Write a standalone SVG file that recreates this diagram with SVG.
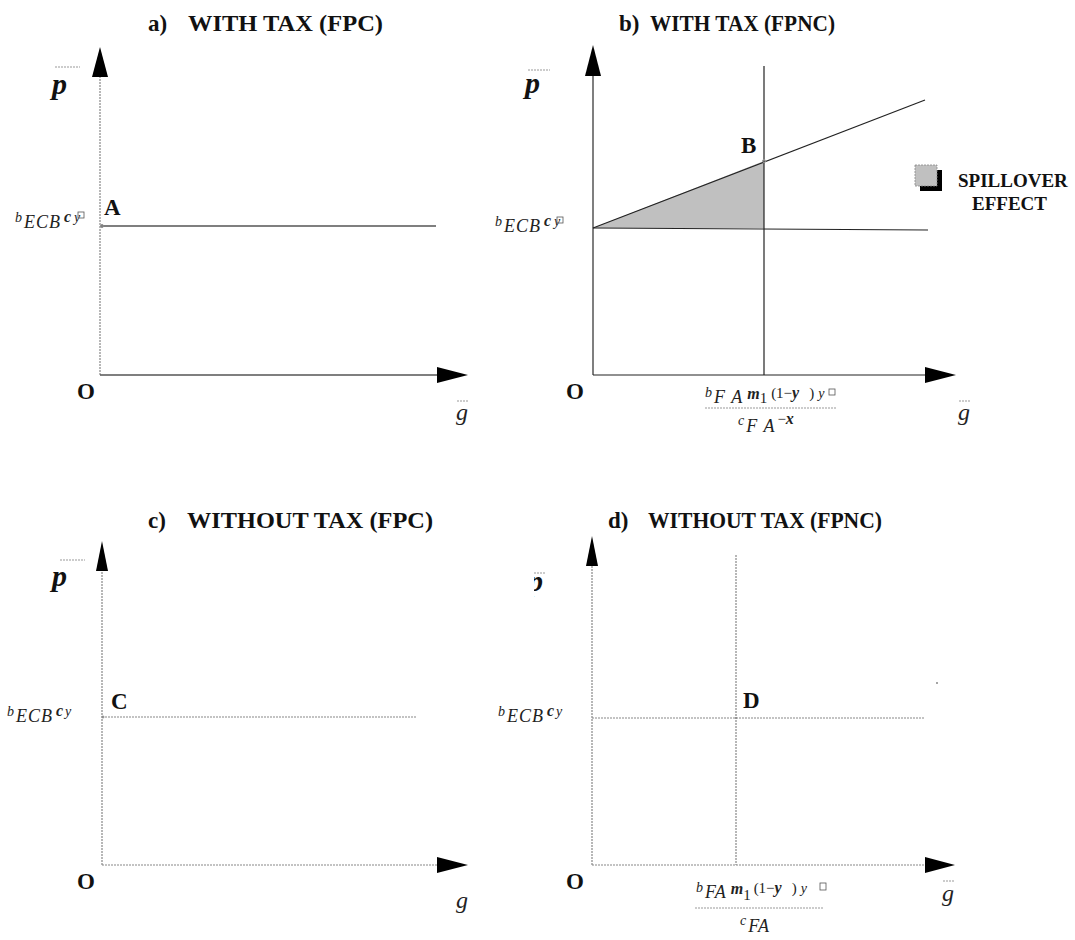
<svg xmlns="http://www.w3.org/2000/svg" width="1075" height="940" viewBox="0 0 1075 940">
<style>
.title{font-family:"Liberation Serif",serif;font-weight:bold;font-size:23px;fill:#111}
.lbl{font-family:"Liberation Serif",serif;font-weight:bold;font-size:23px;fill:#111}
.p{font-family:"Liberation Serif",serif;font-weight:bold;font-style:italic;font-size:30px;fill:#111}
.g{font-family:"Liberation Serif",serif;font-style:italic;font-size:24px;fill:#222}
.m{font-family:"Liberation Serif",serif;font-style:italic;font-size:18px;fill:#222;letter-spacing:1px}
.ms{font-family:"Liberation Serif",serif;font-style:italic;font-size:14px;fill:#222}
.mb{font-family:"Liberation Serif",serif;font-weight:bold;font-style:italic;font-size:16px;fill:#222}
.mr{font-family:"Liberation Serif",serif;font-size:15px;fill:#222}
.leg{font-family:"Liberation Serif",serif;font-weight:bold;font-size:19px;fill:#111}
.axd{stroke:#888;stroke-width:1.2;stroke-dasharray:2,1;fill:none}
.axs{stroke:#555;stroke-width:1.5;fill:none}
.ln{stroke:#222;stroke-width:1.2;fill:none}
.bar{stroke:#999;stroke-width:1;stroke-dasharray:2,1}
.box{fill:none;stroke:#555;stroke-width:0.8}
.head{fill:#000}
</style>
<g id="panel-a">
<text class="title" y="31"><tspan x="148">a)</tspan><tspan x="188" textLength="195" lengthAdjust="spacingAndGlyphs">WITH TAX (FPC)</tspan></text>
<line class="bar" x1="55" y1="67" x2="80" y2="67"/>
<text class="p" x="52" y="94">p</text>
<line class="axd" x1="100" y1="375" x2="100" y2="75"/>
<polygon class="head" points="100,47 92,77 108,77"/>
<line class="axs" x1="100" y1="375" x2="440" y2="375"/>
<polygon class="head" points="468,375 437,367 437,383"/>
<text class="lbl" x="77" y="399">O</text>
<line class="bar" x1="457" y1="401" x2="469" y2="401"/>
<text class="g" x="456" y="420">g</text>
<line class="axs" x1="101" y1="226" x2="436" y2="226"/>
<circle cx="102" cy="226" r="1.5" fill="none" stroke="#888"/>
<text class="lbl" x="104" y="215">A</text>
<text x="15" y="228"><tspan class="ms" dy="-6">b</tspan><tspan class="m" dx="2" dy="6">ECB</tspan><tspan class="mb" dx="3" dy="-6">c</tspan><tspan class="ms" dx="3">y</tspan></text>
<rect class="box" x="78" y="212" width="6" height="6"/>
</g>
<g id="panel-b">
<text class="title" y="31"><tspan x="619">b)</tspan><tspan x="650" textLength="185" lengthAdjust="spacingAndGlyphs">WITH TAX (FPNC)</tspan></text>
<line class="bar" x1="528" y1="70" x2="550" y2="70"/>
<text class="p" x="525" y="93">p</text>
<polygon points="593,228 764,161 764,228" fill="#c0c0c0"/>
<line class="axs" x1="593" y1="375" x2="593" y2="74"/>
<polygon class="head" points="593,45 585,76 601,76"/>
<line class="ln" x1="593" y1="375" x2="928" y2="375"/>
<polygon class="head" points="956,375 925,367 925,383"/>
<line class="ln" x1="764" y1="66" x2="764" y2="375"/>
<line class="ln" x1="593" y1="228" x2="925" y2="100"/>
<line class="ln" x1="593" y1="228" x2="928" y2="230"/>
<circle cx="764" cy="161" r="1.5" fill="none" stroke="#999"/>
<text class="lbl" x="741" y="153">B</text>
<text class="lbl" x="566" y="399">O</text>
<text x="495" y="232"><tspan class="ms" dy="-6">b</tspan><tspan class="m" dx="2" dy="6">ECB</tspan><tspan class="mb" dx="3" dy="-6">c</tspan><tspan class="ms" dx="3">y</tspan></text>
<rect class="box" x="557" y="217" width="6" height="6"/>
<text x="705" y="403"><tspan class="ms" dy="-6">b</tspan><tspan class="m" dx="2" dy="6">F A</tspan><tspan class="mb" dx="4" dy="-4">m</tspan><tspan class="mr" dy="4">1</tspan><tspan class="mr" dx="4" dy="-5">(1−</tspan><tspan class="mb">y</tspan><tspan class="mr" dx="10">)</tspan><tspan class="ms" dx="4">y</tspan></text>
<rect class="box" x="829" y="389" width="6" height="6"/>
<line class="bar" x1="705" y1="408" x2="836" y2="408"/>
<text x="738" y="432"><tspan class="ms" dy="-7">c</tspan><tspan class="m" dx="2" dy="7">F A</tspan><tspan class="mr" dx="2" dy="-8">−</tspan><tspan class="mb">x</tspan></text>
<line class="bar" x1="959" y1="401" x2="971" y2="401"/>
<text class="g" x="958" y="420">g</text>
</g>
<g id="legend">
<rect x="920" y="170" width="22" height="21" fill="#000"/>
<rect x="915" y="165" width="22" height="21" fill="#c0c0c0" stroke="#888" stroke-width="0.8" stroke-dasharray="2,1"/>
<text class="leg" x="958" y="187">SPILLOVER</text>
<text class="leg" x="972" y="210">EFFECT</text>
</g>
<g id="panel-c">
<text class="title" y="528"><tspan x="148">c)</tspan><tspan x="187" textLength="246" lengthAdjust="spacingAndGlyphs">WITHOUT TAX (FPC)</tspan></text>
<line class="bar" x1="60" y1="560" x2="85" y2="560"/>
<text class="p" x="52" y="586">p</text>
<line class="axd" x1="102" y1="865" x2="102" y2="568"/>
<polygon class="head" points="102,541 96,571 108,571"/>
<line class="axd" x1="102" y1="865" x2="440" y2="865"/>
<polygon class="head" points="468,865 437,857 437,873"/>
<line class="axd" x1="102" y1="717" x2="416" y2="717"/>
<circle cx="103" cy="717" r="1" fill="none" stroke="#888"/>
<text class="lbl" x="111" y="709">C</text>
<text class="lbl" x="77" y="889">O</text>
<text class="g" x="456" y="908">g</text>
<text x="7" y="722"><tspan class="ms" dy="-6">b</tspan><tspan class="m" dx="2" dy="6">ECB</tspan><tspan class="mb" dx="3" dy="-6" font-size="12">c</tspan><tspan class="ms" dx="2" font-size="11">y</tspan></text>
</g>
<g id="panel-d">
<text class="title" y="528"><tspan x="608">d)</tspan><tspan x="648" textLength="234" lengthAdjust="spacingAndGlyphs">WITHOUT TAX (FPNC)</tspan></text>
<line class="bar" x1="534" y1="573" x2="545" y2="573"/>
<svg x="534" y="570" width="12" height="35" overflow="hidden"><text class="p" x="-6" y="21">p</text></svg>
<line class="axd" x1="592" y1="865" x2="592" y2="564"/>
<polygon class="head" points="592,536 586,566 598,566"/>
<line class="axd" x1="592" y1="865" x2="928" y2="865"/>
<polygon class="head" points="955,865 925,857 925,873"/>
<line class="axd" x1="736" y1="555" x2="736" y2="865"/>
<line class="axd" x1="592" y1="718" x2="925" y2="718"/>
<circle cx="736" cy="718" r="1" fill="#888"/>
<text class="lbl" x="743" y="708">D</text>
<circle cx="937" cy="683" r="0.8" fill="#333"/>
<text class="lbl" x="566" y="889">O</text>
<text x="498" y="722"><tspan class="ms" dy="-6">b</tspan><tspan class="m" dx="2" dy="6">ECB</tspan><tspan class="mb" dx="3" dy="-6" font-size="12">c</tspan><tspan class="ms" dx="2" font-size="11">y</tspan></text>
<text x="696" y="898"><tspan class="ms" dy="-6">b</tspan><tspan class="m" dx="2" dy="6">FA</tspan><tspan class="mb" dx="4" dy="-4">m</tspan><tspan class="mr" dx="0" dy="6" font-size="18">1</tspan><tspan class="mr" dx="3" dy="-7">(1−</tspan><tspan class="mb">y</tspan><tspan class="mr" dx="10">)</tspan><tspan class="ms" dx="4">y</tspan></text>
<rect class="box" x="820" y="883" width="6" height="7"/>
<line class="bar" x1="695" y1="908" x2="823" y2="908"/>
<text x="740" y="932"><tspan class="ms" dy="-7">c</tspan><tspan class="m" dx="2" dy="7">FA</tspan></text>
<line class="bar" x1="943" y1="881" x2="955" y2="881"/>
<text class="g" x="942" y="901">g</text>
</g>
</svg>
